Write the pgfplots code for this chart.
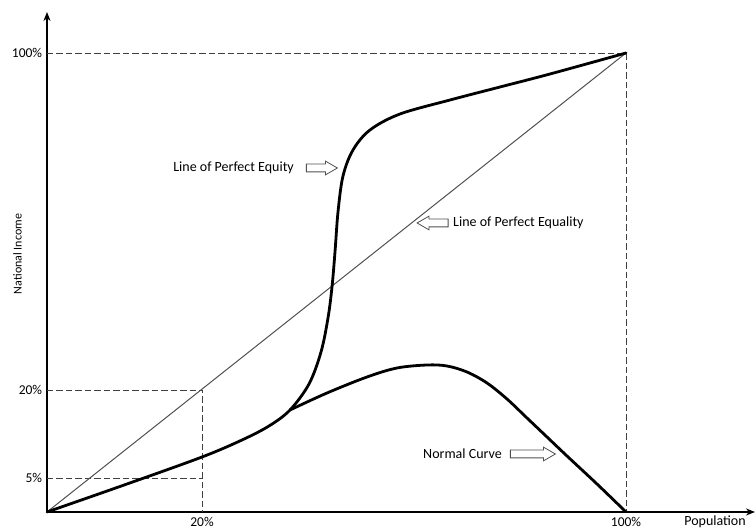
\documentclass[border=0pt]{standalone}
\usepackage{fontspec}
\setmainfont{Carlito}
\usepackage{pgfplots}
\pgfplotsset{compat=1.18}
\usetikzlibrary{arrows.meta,shapes.arrows}
\definecolor{dashgray}{HTML}{404040}
\definecolor{eqgray}{HTML}{505050}
\tikzset{arr/.style={draw=eqgray, line width=0.8pt, fill=white, shape=single arrow, inner xsep=0pt, inner ysep=3.5pt, single arrow head extend=3pt, single arrow tip angle=60, minimum height=31pt}}
\begin{document}
\fontsize{14}{16}\selectfont
\begin{tikzpicture}
\begin{axis}[
  x=1pt, y=1pt,
  xmin=0, xmax=708, ymin=0, ymax=500,
  axis lines=left,
  axis line style={line width=1.5pt, black, -{Stealth[length=9pt,width=7pt]}},
  clip=false,
  xtick={155,579}, xticklabels={20\%,100\%},
  ytick={34,122,459}, yticklabels={5\%,20\%,100\%},
  major tick length=0pt,
  tick label style={font=\fontsize{13.5}{16}\selectfont},
  /pgf/number format/assume math mode=true,
  xlabel={Population}, ylabel={National Income},
  every axis x label/.style={at={(axis cs:668,0)}, anchor=north, inner sep=0pt, yshift=-4pt, font=\fontsize{14}{16}\selectfont},
  every axis y label/.style={at={(axis cs:-25,258)}, rotate=90, anchor=south, inner sep=0pt, font=\fontsize{12}{14}\selectfont},
]
% reference dashed lines
\addplot[dashgray, line width=0.8pt, dash pattern=on 6.5pt off 3pt] coordinates {(0,459) (579,459) (579,0)};
\addplot[dashgray, line width=0.8pt, dash pattern=on 6.5pt off 3pt] coordinates {(0,122) (155,122) (155,0)};
\addplot[dashgray, line width=0.8pt, dash pattern=on 6.5pt off 3pt] coordinates {(0,34) (155,34)};
% line of perfect equality
\addplot[eqgray, line width=1pt] coordinates {(0,0) (579,459)};
% line of perfect equity (S-curve)
\addplot[black, line width=2.8pt, smooth, tension=0.55, line join=round, line cap=round] coordinates {
 (0,0) (80,28) (155,55) (195,72) (222,86) (243,102) (262,128) (274,160) (281,194)
 (285,225) (288,260) (291,300) (296,336) (306,362) (323,382) (353,398) (403,412)
 (453,425) (503,438) (579,459)};
% normal curve
\addplot[black, line width=2.8pt, smooth, tension=0.55, line join=round, line cap=round] coordinates {
 (243,102) (280,119) (320,135) (350,144) (380,147) (400,146) (420,140) (440,129)
 (460,113) (480,94) (500,75) (520,56) (550,28) (579,0)};
% annotations
\node[arr] at (axis cs:271.5,344) {};
\node[anchor=east, inner sep=0pt] at (axis cs:247,344) {Line of Perfect Equity};
\node[arr, shape border rotate=180] at (axis cs:389,289) {};
\node[anchor=west, inner sep=0pt] at (axis cs:406,289) {Line of Perfect Equality};
\node[arr, minimum height=45pt] at (axis cs:482.5,58) {};
\node[anchor=east, inner sep=0pt] at (axis cs:455,58) {Normal Curve};
\coordinate (bbA) at (axis cs:-47,-20);
\coordinate (bbB) at (axis cs:709,512);
\end{axis}
\pgfresetboundingbox
\path (bbA) rectangle (bbB);
\end{tikzpicture}
\end{document}
